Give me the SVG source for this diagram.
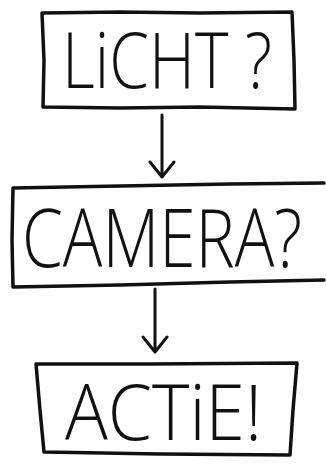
<svg xmlns="http://www.w3.org/2000/svg" width="326" height="464" viewBox="0 0 326 464">
<style>
.box{fill:none;stroke:#111;stroke-width:3.5;stroke-linejoin:round;stroke-linecap:round}
.lbl{font-family:"Open Sans","Liberation Sans",sans-serif;font-weight:300;fill:#111}
.con{fill:none;stroke:#111;stroke-width:3;stroke-linecap:round;stroke-linejoin:round}
</style>
<rect width="326" height="464" fill="#fff"/>
<g id="node-licht">
<path class="box" d="M42 13 L120 12 L200 13 L292 12 L294 60 L295 109 L200 107 L120 108 L43 107 L44 60 Z"/>
<text class="lbl" x="62" y="88" font-size="77" textLength="210" lengthAdjust="spacingAndGlyphs">LiCHT ?</text>
</g>
<g id="node-camera">
<path class="box" d="M13 188 L120 186 L230 184 L324 183 M13 188 L12 240 L13 287 L120 285 L230 282 L324 280"/>
<text class="lbl" x="22" y="267" font-size="82" textLength="280" lengthAdjust="spacingAndGlyphs">CAMERA?</text>
</g>
<g id="node-actie">
<path class="box" d="M36 364 L150 364 L297 363 L293 410 L290 455 L160 454 L44 452 L40 410 Z"/>
<text class="lbl" x="65" y="440" font-size="77" textLength="197" lengthAdjust="spacingAndGlyphs">ACTiE!</text>
</g>
<g id="connectors">
<path class="con" d="M162 115 L162 177 M150 162 L162 177 L174 162"/>
<path class="con" d="M155 289 L155 352 M143 337 L155 352 L167 337"/>
</g>
</svg>
